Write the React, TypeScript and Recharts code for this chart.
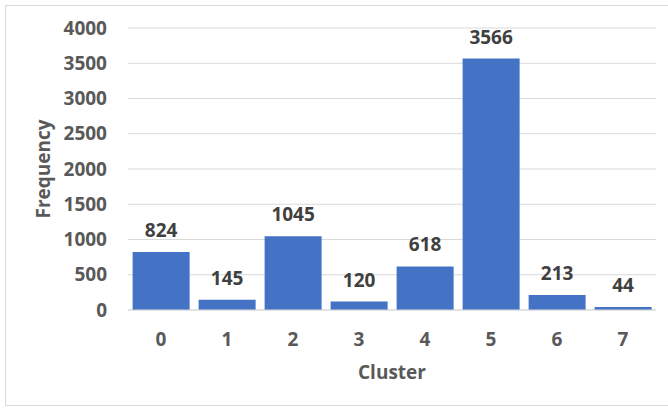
import React from "react";
import { BarChart, Bar, XAxis, YAxis, CartesianGrid, LabelList, Label } from "recharts";

const categories = ["0", "1", "2", "3", "4", "5", "6", "7"];
const frequencies = [824, 145, 1045, 120, 618, 3566, 213, 44];
const yTicks = [0, 500, 1000, 1500, 2000, 2500, 3000, 3500, 4000];

const data = categories.map((c, i) => ({ cluster: c, frequency: frequencies[i] }));

const FONT = "'Open Sans', 'Liberation Sans', sans-serif";

export default function App() {
  return (
    <div style={{ position: "absolute", left: 0, top: 0, width: 668, height: 409, background: "#fff", overflow: "hidden" }}>
      <div
        style={{
          position: "absolute",
          left: 5,
          top: 5,
          width: 670,
          height: 399,
          borderTop: "1px solid #d9d9d9",
          borderLeft: "1px solid #d9d9d9",
          borderBottom: "1px solid #d9d9d9",
        }}
      />
      <div style={{ position: "absolute", left: 0, top: 0 }}>
        <BarChart
          width={668}
          height={409}
          data={data}
          margin={{ top: 28, right: 12, bottom: 19, left: 60 }}
          barCategoryGap="7%"
        >
          <CartesianGrid vertical={false} stroke="#d9d9d9" strokeWidth={1} />
          <XAxis
            dataKey="cluster"
            height={80}
            tickLine={false}
            tickSize={0}
            tickMargin={23}
            axisLine={{ stroke: "#d9d9d9" }}
            tick={{ fill: "#595959", fontSize: 19, fontWeight: 700, fontFamily: FONT }}
          >
            <Label
              content={({ viewBox }: any) => (
                <text
                  x={viewBox.x + viewBox.width / 2}
                  y={379}
                  textAnchor="middle"
                  fill="#595959"
                  fontSize={19}
                  fontWeight={700}
                  fontFamily={FONT}
                >
                  Cluster
                </text>
              )}
            />
          </XAxis>
          <YAxis
            width={68}
            domain={[0, 4000]}
            ticks={yTicks}
            interval={0}
            axisLine={false}
            tickLine={false}
            tickSize={0}
            tickMargin={21}
            tick={{ fill: "#595959", fontSize: 19, fontWeight: 700, fontFamily: FONT }}
          >
            <Label
              content={({ viewBox }: any) => {
                const cx = 50;
                const cy = viewBox.y + viewBox.height / 2;
                return (
                  <text
                    x={cx}
                    y={cy}
                    transform={`rotate(-90 ${cx} ${cy})`}
                    textAnchor="middle"
                    fill="#595959"
                    fontSize={19}
                    fontWeight={700}
                    fontFamily={FONT}
                  >
                    Frequency
                  </text>
                );
              }}
            />
          </YAxis>
          <Bar dataKey="frequency" fill="#4472C4" isAnimationActive={false}>
            <LabelList
              dataKey="frequency"
              position="top"
              offset={15}
              fill="#404040"
              fontSize={19}
              fontWeight={700}
              fontFamily={FONT}
            />
          </Bar>
        </BarChart>
      </div>
    </div>
  );
}
